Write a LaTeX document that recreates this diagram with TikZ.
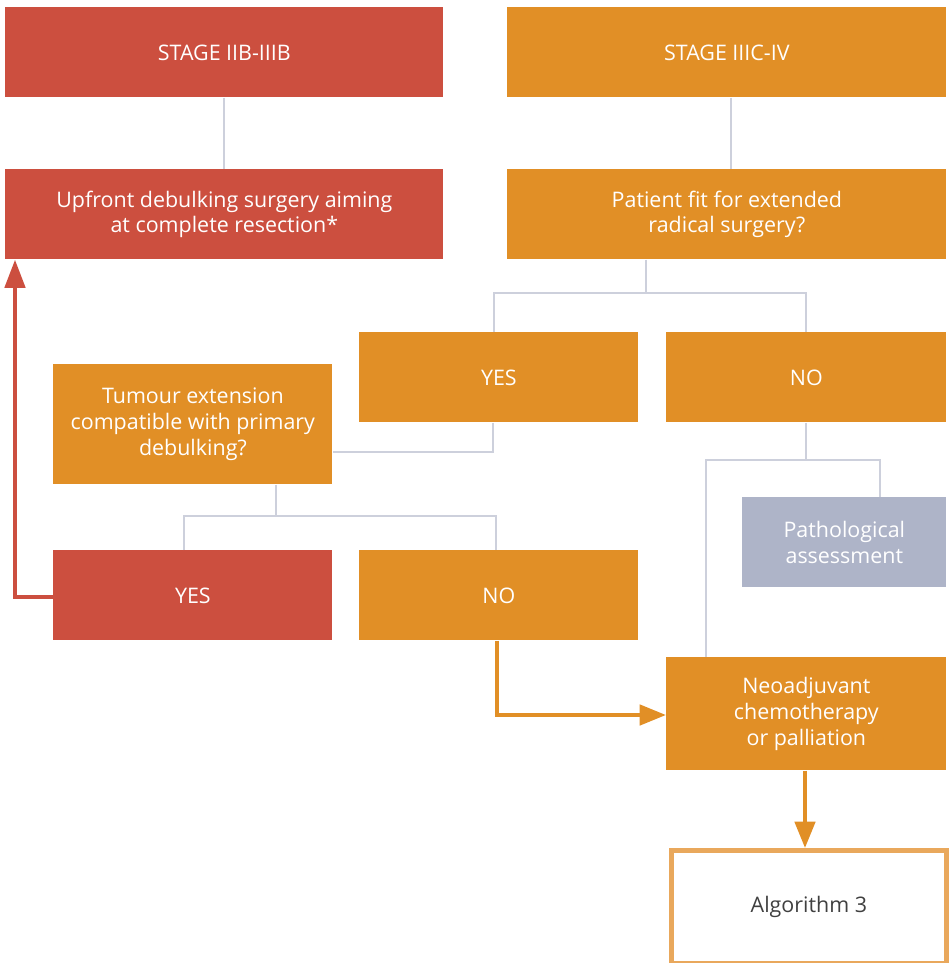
\documentclass[tikz,border=0pt]{standalone}
\usepackage{fontspec}
\setmainfont{Open Sans}
\usetikzlibrary{arrows.meta}
\definecolor{cred}{HTML}{CC4F3F}
\definecolor{corange}{HTML}{E18F26}
\definecolor{cgrey}{HTML}{AEB4C8}
\definecolor{cline}{HTML}{CDD0DC}
\definecolor{cborder}{HTML}{E9A85C}
\definecolor{ctext}{HTML}{404040}
\tikzset{
  box/.style={draw=none, inner sep=0pt, text=white, align=center, font=\fontsize{12.2}{14.7}\selectfont, anchor=north west},
  redbox/.style={box, fill=cred},
  orbox/.style={box, fill=corange},
  greybox/.style={box, fill=cgrey},
  conn/.style={draw=cline, line width=1.2pt},
  redarrow/.style={draw=cred, line width=2.3pt, -{Triangle[length=16pt,width=11.5pt]}},
  orarrow/.style={draw=corange, line width=2.3pt, -{Triangle[length=15pt,width=11.5pt]}},
}
\begin{document}
\begin{tikzpicture}[x=0.02cm,y=-0.02cm]
\useasboundingbox (0,0) rectangle (948,963);
\node[redbox, minimum width=438*0.02cm, minimum height=90*0.02cm] (s1) at (5,7) {STAGE IIB-IIIB};
\node[orbox, minimum width=439*0.02cm, minimum height=90*0.02cm] (s2) at (507,7) {STAGE IIIC-IV};
\node[redbox, minimum width=438*0.02cm, minimum height=90*0.02cm] (up) at (5,169) {Upfront debulking surgery aiming\\at complete resection*};
\node[orbox, minimum width=439*0.02cm, minimum height=90*0.02cm] (fit) at (507,169) {Patient fit for extended\\radical surgery?};
\node[orbox, minimum width=279*0.02cm, minimum height=90*0.02cm] (yes1) at (359,332) {YES};
\node[orbox, minimum width=280*0.02cm, minimum height=90*0.02cm] (no1) at (666,332) {NO};
\node[orbox, minimum width=279*0.02cm, minimum height=120*0.02cm] (tum) at (53,364) {Tumour extension\\compatible with primary\\debulking?};
\node[redbox, minimum width=279*0.02cm, minimum height=90*0.02cm] (yes2) at (53,550) {YES};
\node[orbox, minimum width=279*0.02cm, minimum height=90*0.02cm] (no2) at (359,550) {NO};
\node[greybox, minimum width=204*0.02cm, minimum height=90*0.02cm] (path) at (742,497) {Pathological\\assessment};
\node[orbox, minimum width=280*0.02cm, minimum height=113*0.02cm] (neo) at (666,657) {Neoadjuvant\\chemotherapy\\or palliation};
\node[box, draw=cborder, line width=2.7pt, fill=white, text=ctext, minimum width=275*0.02cm, minimum height=113*0.02cm] (alg) at (669,848) {Algorithm 3};
% connectors
\draw[conn] (s1.south) -- (up.north);
\draw[conn] (s2.south -| 731,0) -- (fit.north -| 731,0);
\coordinate (f1) at (646,293);
\draw[conn] (fit.south -| f1) -- (f1);
\draw[conn] (yes1.north -| 494,0) |- (f1) -| (no1.north -| 806,0);
\draw[conn] (yes1.south -| 493,0) |- (tum.east |- 0,452);
\coordinate (t1) at (276,516);
\draw[conn] (tum.south -| t1) -- (t1);
\draw[conn] (yes2.north -| 184,0) |- (t1) -| (no2.north -| 496,0);
\coordinate (n1) at (806,460);
\draw[conn] (no1.south -| n1) -- (n1);
\draw[conn] (neo.north -| 706,0) |- (n1) -| (path.north -| 880,0);
% arrows
\draw[redarrow] (yes2.west |- 0,597) -| (up.south -| 15,0);
\draw[orarrow] (no2.south -| 497,0) |- (neo.west |- 0,715);
\draw[orarrow] (neo.south -| 805,0) -- (alg.north -| 805,0);
\end{tikzpicture}
\end{document}
